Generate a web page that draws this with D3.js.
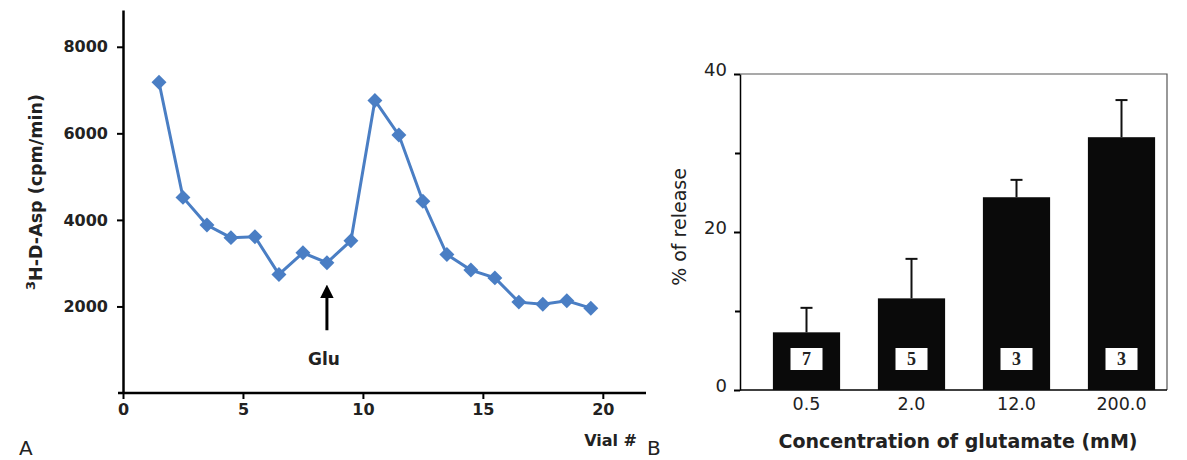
<!DOCTYPE html>
<html>
<head>
<meta charset="utf-8">
<script src="https://cdn.jsdelivr.net/npm/d3@7"></script>
<style>
  body { margin: 0; background: #fff; }
  svg { display: block; font-family: "DejaVu Sans", sans-serif; }
</style>
</head>
<body>
<div id="wrapper"></div>
<script>
// panel A: 3H-D-Asp efflux per vial
const vials = [1.5, 2.5, 3.5, 4.5, 5.5, 6.5, 7.5, 8.5, 9.5, 10.5, 11.5, 12.5, 13.5, 14.5, 15.5, 16.5, 17.5, 18.5, 19.5]
const counts = [7180, 4520, 3880, 3590, 3610, 2740, 3240, 3010, 3520, 6760, 5960, 4430, 3200, 2840, 2660, 2100, 2050, 2130, 1960]
const xTicksA = [0, 5, 10, 15, 20]
const yTicksA = [2000, 4000, 6000, 8000]
const gluVial = 8.5

// panel B: % release by glutamate concentration
const concentrations = ["0.5", "2.0", "12.0", "200.0"]
const release = [7.3, 11.6, 24.4, 32.0]
const releaseErr = [3.1, 5.0, 2.2, 4.7]
const nValues = [7, 5, 3, 3]
const yTicksB = [0, 20, 40]
const yMinorB = [10, 30]

const svg = d3.select("#wrapper")
  .append("svg")
    .attr("width", 1187)
    .attr("height", 460)

// ---------- panel A ----------
const xA = d3.scaleLinear().domain([0, 21.8]).range([123, 646])
const yA = d3.scaleLinear().domain([0, 8850]).range([393, 10])

const gA = svg.append("g")

gA.append("g")
  .attr("transform", `translate(0, ${yA(0)})`)
  .call(d3.axisBottom(xA).tickValues(xTicksA).tickSize(6).tickSizeOuter(0).tickPadding(5))
  .call(g => g.select(".domain").attr("stroke-width", 2.5).attr("d", `M118,0H${xA(21.8)}`))
  .call(g => g.selectAll(".tick line").attr("stroke-width", 2))
  .call(g => g.selectAll("text").attr("font-size", 16).attr("font-weight", "bold")
    .attr("font-family", "DejaVu Sans, sans-serif").attr("fill", "#222"))

gA.append("g")
  .attr("transform", `translate(${xA(0)}, 0)`)
  .call(d3.axisLeft(yA).tickValues(yTicksA).tickFormat(d3.format("d")).tickSize(6).tickSizeOuter(0).tickPadding(9))
  .call(g => g.select(".domain").attr("stroke-width", 2.5))
  .call(g => g.selectAll(".tick line").attr("stroke-width", 2))
  .call(g => g.selectAll("text").attr("font-size", 16).attr("font-weight", "bold")
    .attr("font-family", "DejaVu Sans, sans-serif").attr("fill", "#222"))

const line = d3.line()
  .x((d, i) => xA(vials[i]))
  .y(d => yA(d))

gA.append("path")
  .datum(counts)
  .attr("d", line)
  .attr("fill", "none")
  .attr("stroke", "#4a7ec4")
  .attr("stroke-width", 3)

gA.selectAll(".pt")
  .data(counts)
  .enter().append("path")
    .attr("class", "pt")
    .attr("d", d3.symbol(d3.symbolSquare, 112))
    .attr("transform", (d, i) => `translate(${xA(vials[i])}, ${yA(d)}) rotate(45)`)
    .attr("fill", "#4a7ec4")

// Glu arrow
svg.append("defs").append("marker")
  .attr("id", "arrow")
  .attr("viewBox", "0 0 10 10")
  .attr("refX", 5).attr("refY", 5)
  .attr("markerWidth", 4.5).attr("markerHeight", 4.5)
  .attr("orient", "auto")
  .append("path").attr("d", "M0,0L10,5L0,10z").attr("fill", "#000")

gA.append("line")
  .attr("x1", xA(gluVial)).attr("x2", xA(gluVial))
  .attr("y1", yA(1450)).attr("y2", yA(2350))
  .attr("stroke", "#000").attr("stroke-width", 3)
  .attr("marker-end", "url(#arrow)")

gA.append("text")
  .attr("x", xA(gluVial) - 3).attr("y", 365)
  .attr("text-anchor", "middle")
  .attr("font-size", 17).attr("font-weight", "bold").attr("fill", "#222")
  .text("Glu")

const yTitleA = gA.append("text")
  .attr("transform", "translate(42, 192) rotate(-90)")
  .attr("text-anchor", "middle")
  .attr("font-size", 17.5).attr("font-weight", "bold").attr("fill", "#222")
yTitleA.append("tspan").attr("baseline-shift", "super").attr("font-size", 13).text("3")
yTitleA.append("tspan").text("H-D-Asp (cpm/min)")

gA.append("text")
  .attr("x", 637).attr("y", 446)
  .attr("text-anchor", "end")
  .attr("font-size", 16).attr("font-weight", "bold").attr("fill", "#222")
  .text("Vial #")

svg.append("text")
  .attr("x", 19).attr("y", 455)
  .attr("font-size", 20).attr("fill", "#222")
  .text("A")

// ---------- panel B ----------
const xB = d3.scaleBand().domain(concentrations).range([754, 1174]).paddingInner(0.36).paddingOuter(0.18)
const yB = d3.scaleLinear().domain([0, 40]).range([390, 74])

const gB = svg.append("g")

// frame top and right
gB.append("path")
  .attr("d", `M${740},${yB(40)}H1167V${yB(0)}`)
  .attr("fill", "none").attr("stroke", "#555").attr("stroke-width", 1.2)

gB.append("g")
  .attr("transform", `translate(0, ${yB(0)})`)
  .call(d3.axisBottom(xB).tickSize(0).tickPadding(8))
  .call(g => g.select(".domain").attr("stroke-width", 1.5).attr("d", "M740,0H1167"))
  .call(g => g.selectAll("text").attr("font-size", 17.5)
    .attr("font-family", "DejaVu Sans, sans-serif").attr("fill", "#222"))

gB.append("g")
  .attr("transform", `translate(740, 0)`)
  .call(d3.axisLeft(yB).tickValues(yTicksB).tickSize(6).tickSizeOuter(0).tickPadding(7))
  .call(g => g.select(".domain").attr("stroke-width", 1.5))
  .call(g => g.selectAll(".tick line").attr("stroke-width", 2))
  .call(g => g.selectAll("text").attr("font-size", 18).attr("dy", "0.1em")
    .attr("font-family", "DejaVu Sans, sans-serif").attr("fill", "#222"))

gB.append("g")
  .attr("transform", `translate(740, 0)`)
  .call(d3.axisLeft(yB).tickValues(yMinorB).tickSize(5).tickFormat(""))
  .call(g => g.select(".domain").remove())
  .call(g => g.selectAll(".tick line").attr("stroke-width", 2))

const barGroup = gB.selectAll(".bar")
  .data(concentrations)
  .enter().append("g")
    .attr("class", "bar")

barGroup.append("line")
  .attr("x1", d => xB(d) + xB.bandwidth() / 2)
  .attr("x2", d => xB(d) + xB.bandwidth() / 2)
  .attr("y1", (d, i) => yB(release[i]))
  .attr("y2", (d, i) => yB(release[i] + releaseErr[i]))
  .attr("stroke", "#111").attr("stroke-width", 2)

barGroup.append("line")
  .attr("x1", d => xB(d) + xB.bandwidth() / 2 - 6)
  .attr("x2", d => xB(d) + xB.bandwidth() / 2 + 6)
  .attr("y1", (d, i) => yB(release[i] + releaseErr[i]))
  .attr("y2", (d, i) => yB(release[i] + releaseErr[i]))
  .attr("stroke", "#111").attr("stroke-width", 2)

barGroup.append("rect")
  .attr("x", d => xB(d))
  .attr("width", xB.bandwidth())
  .attr("y", (d, i) => yB(release[i]))
  .attr("height", (d, i) => yB(0) - yB(release[i]))
  .attr("fill", "#0a0a0a")

barGroup.append("rect")
  .attr("x", d => xB(d) + xB.bandwidth() / 2 - 16)
  .attr("y", yB(0) - 42)
  .attr("width", 32).attr("height", 22)
  .attr("fill", "#fff")

barGroup.append("text")
  .attr("x", d => xB(d) + xB.bandwidth() / 2)
  .attr("y", yB(0) - 25)
  .attr("text-anchor", "middle")
  .attr("font-family", "Liberation Serif, serif")
  .attr("font-weight", "bold")
  .attr("font-size", 18)
  .attr("fill", "#222")
  .text((d, i) => nValues[i])

gB.append("text")
  .attr("transform", "translate(686, 227) rotate(-90)")
  .attr("text-anchor", "middle")
  .attr("font-size", 19).attr("fill", "#222")
  .text("% of release")

gB.append("text")
  .attr("x", 958).attr("y", 448)
  .attr("text-anchor", "middle")
  .attr("font-size", 19).attr("font-weight", "bold").attr("fill", "#222")
  .text("Concentration of glutamate (mM)")

svg.append("text")
  .attr("x", 647).attr("y", 455)
  .attr("font-size", 20).attr("fill", "#222")
  .text("B")
</script>
</body>
</html>
